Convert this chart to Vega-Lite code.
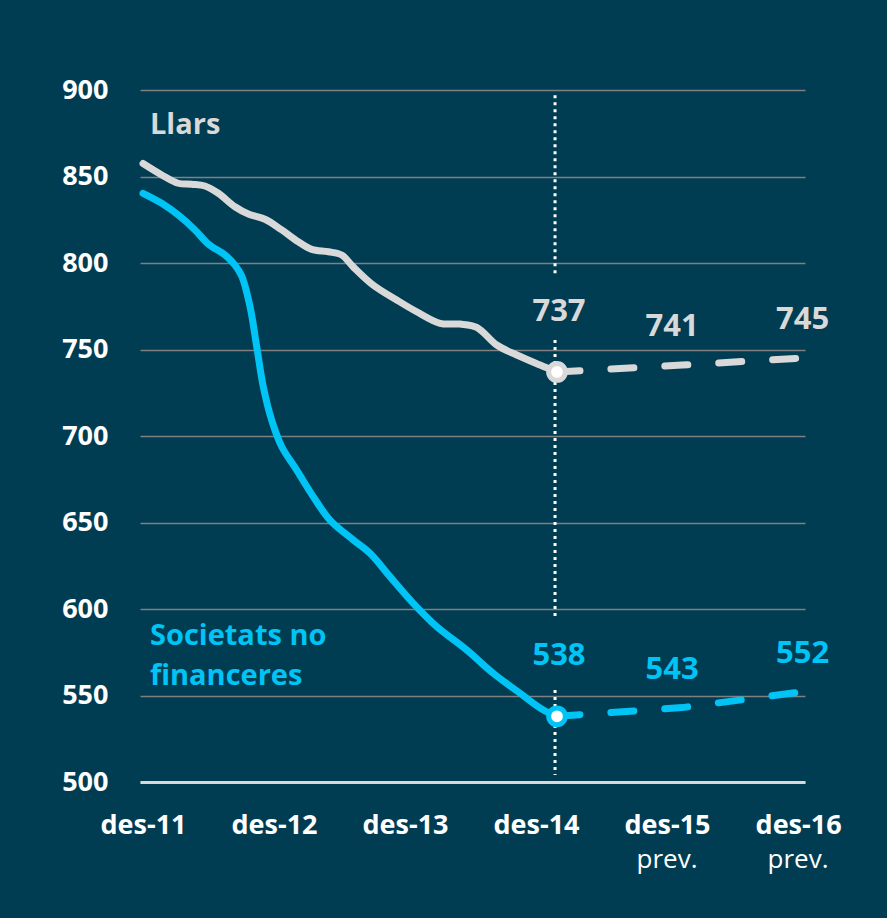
{
  "$schema": "https://vega.github.io/schema/vega-lite/v6.json",
  "width": 665,
  "height": 692,
  "autosize": {"type": "none"},
  "padding": {"left": 140, "top": 90, "right": 82, "bottom": 136},
  "background": "#013D52",
  "config": {"view": {"stroke": null}, "font": "Open Sans"},
  "datasets": {
    "hist": [
      {"series": "Llars", "t": 0.0, "v": 857.5},
      {"series": "Llars", "t": 0.143, "v": 850.9},
      {"series": "Llars", "t": 0.267, "v": 846.1},
      {"series": "Llars", "t": 0.372, "v": 845.5},
      {"series": "Llars", "t": 0.473, "v": 844.5},
      {"series": "Llars", "t": 0.575, "v": 840.3},
      {"series": "Llars", "t": 0.702, "v": 832.5},
      {"series": "Llars", "t": 0.804, "v": 828.3},
      {"series": "Llars", "t": 0.931, "v": 825.3},
      {"series": "Llars", "t": 1.059, "v": 819.1},
      {"series": "Llars", "t": 1.185, "v": 812.3},
      {"series": "Llars", "t": 1.288, "v": 807.9},
      {"series": "Llars", "t": 1.415, "v": 806.5},
      {"series": "Llars", "t": 1.517, "v": 804.6},
      {"series": "Llars", "t": 1.603, "v": 797.9},
      {"series": "Llars", "t": 1.756, "v": 787.3},
      {"series": "Llars", "t": 1.937, "v": 778.6},
      {"series": "Llars", "t": 2.089, "v": 771.8},
      {"series": "Llars", "t": 2.267, "v": 765.1},
      {"series": "Llars", "t": 2.42, "v": 764.7},
      {"series": "Llars", "t": 2.547, "v": 762.8},
      {"series": "Llars", "t": 2.7, "v": 752.6},
      {"series": "Llars", "t": 2.853, "v": 746.8},
      {"series": "Llars", "t": 3.031, "v": 741.0},
      {"series": "Llars", "t": 3.16, "v": 737},
      {"series": "Societats no financeres", "t": 0.0, "v": 840.3},
      {"series": "Societats no financeres", "t": 0.143, "v": 834.5},
      {"series": "Societats no financeres", "t": 0.269, "v": 827.7},
      {"series": "Societats no financeres", "t": 0.397, "v": 819.1},
      {"series": "Societats no financeres", "t": 0.498, "v": 811.0},
      {"series": "Societats no financeres", "t": 0.626, "v": 804.6},
      {"series": "Societats no financeres", "t": 0.702, "v": 798.8},
      {"series": "Societats no financeres", "t": 0.753, "v": 792.5},
      {"series": "Societats no financeres", "t": 0.817, "v": 774.7},
      {"series": "Societats no financeres", "t": 0.868, "v": 751.6},
      {"series": "Societats no financeres", "t": 0.918, "v": 728.5},
      {"series": "Societats no financeres", "t": 0.982, "v": 709.2},
      {"series": "Societats no financeres", "t": 1.059, "v": 693.8},
      {"series": "Societats no financeres", "t": 1.173, "v": 680.3},
      {"series": "Societats no financeres", "t": 1.3, "v": 664.9},
      {"series": "Societats no financeres", "t": 1.427, "v": 651.4},
      {"series": "Societats no financeres", "t": 1.605, "v": 639.9},
      {"series": "Societats no financeres", "t": 1.733, "v": 632.2},
      {"series": "Societats no financeres", "t": 1.885, "v": 618.7},
      {"series": "Societats no financeres", "t": 2.063, "v": 603.3},
      {"series": "Societats no financeres", "t": 2.242, "v": 589.8},
      {"series": "Societats no financeres", "t": 2.471, "v": 576.3},
      {"series": "Societats no financeres", "t": 2.674, "v": 562.8},
      {"series": "Societats no financeres", "t": 2.878, "v": 551.3},
      {"series": "Societats no financeres", "t": 3.056, "v": 541.6},
      {"series": "Societats no financeres", "t": 3.16, "v": 538}
    ],
    "proj": [
      {"series": "Llars", "t": 3.16, "v": 737},
      {"series": "Llars", "t": 4.115, "v": 741},
      {"series": "Llars", "t": 5.02, "v": 745},
      {"series": "Societats no financeres", "t": 3.16, "v": 538},
      {"series": "Societats no financeres", "t": 4.115, "v": 543},
      {"series": "Societats no financeres", "t": 5.02, "v": 552}
    ],
    "divider": [
      {"t": 3.145, "y1": 897, "y2": 794},
      {"t": 3.145, "y1": 755.5, "y2": 593.6},
      {"t": 3.145, "y1": 553.2, "y2": 504}
    ],
    "names": [
      {"series": "Llars", "label": "Llars", "t": 0.053, "v": 874.6},
      {"series": "Societats no financeres", "label": "Societats no", "t": 0.053, "v": 579.2},
      {"series": "Societats no financeres", "label": "financeres", "t": 0.053, "v": 556.1}
    ],
    "prev": [
      {"label": "prev.", "t": 4, "v": 450.3},
      {"label": "prev.", "t": 5, "v": 450.3}
    ]
  },
  "layer": [
    {
      "data": {"name": "hist"},
      "mark": {"type": "line", "interpolate": "catmull-rom", "strokeWidth": 7, "strokeCap": "round", "strokeJoin": "round"},
      "encoding": {
        "x": {
          "field": "t", "type": "quantitative",
          "scale": {"domain": [-0.023, 5.053], "nice": false, "zero": false},
          "axis": {
            "values": [0, 1, 2, 3, 4, 5],
            "labelExpr": "'des-' + (11 + datum.value)",
            "title": null, "grid": false, "ticks": false, "tickSize": 0,
            "domainColor": "#D9D9D9", "domainWidth": 3,
            "labelFont": "Open Sans", "labelFontSize": 27, "labelFontWeight": "bold",
            "labelColor": "#FFFFFF", "labelPadding": 30,
            "labelFlush": false, "labelOverlap": false
          }
        },
        "y": {
          "field": "v", "type": "quantitative",
          "scale": {"domain": [500, 900], "nice": false, "zero": false},
          "axis": {
            "values": [500, 550, 600, 650, 700, 750, 800, 850, 900],
            "title": null, "grid": true, "gridColor": "#808080", "gridWidth": 1.3,
            "domain": false, "ticks": false, "tickSize": 0,
            "labelFont": "Open Sans", "labelFontSize": 27, "labelFontWeight": "bold",
            "labelColor": "#FFFFFF", "labelPadding": 32
          }
        },
        "color": {
          "field": "series", "type": "nominal",
          "scale": {"domain": ["Llars", "Societats no financeres"], "range": ["#D9D9D9", "#00C4F5"]},
          "legend": null
        }
      }
    },
    {
      "data": {"name": "proj"},
      "mark": {"type": "line", "strokeWidth": 7, "strokeCap": "round", "strokeDash": [23, 31]},
      "encoding": {
        "x": {"field": "t", "type": "quantitative"},
        "y": {"field": "v", "type": "quantitative"},
        "color": {"field": "series", "type": "nominal"}
      }
    },
    {
      "data": {"name": "divider"},
      "mark": {"type": "rule", "color": "#FFFFFF", "strokeWidth": 3, "strokeDash": [3, 4]},
      "encoding": {
        "x": {"field": "t", "type": "quantitative"},
        "y": {"field": "y1", "type": "quantitative"},
        "y2": {"field": "y2"}
      }
    },
    {
      "data": {"name": "proj"},
      "transform": [{"filter": "datum.t < 3.5"}],
      "mark": {"type": "point", "filled": false, "size": 280, "strokeWidth": 5, "opacity": 1},
      "encoding": {
        "x": {"field": "t", "type": "quantitative"},
        "y": {"field": "v", "type": "quantitative"},
        "fill": {"value": "#FFFFFF"},
        "stroke": {
          "field": "series", "type": "nominal",
          "scale": {"domain": ["Llars", "Societats no financeres"], "range": ["#D9D9D9", "#00C4F5"]},
          "legend": null
        }
      }
    },
    {
      "data": {"name": "proj"},
      "transform": [{"filter": "datum.t < 3.5"}],
      "mark": {"type": "text", "font": "Open Sans", "fontSize": 31, "fontWeight": "bold", "align": "center", "baseline": "alphabetic", "dy": -51, "dx": 2},
      "encoding": {
        "x": {"field": "t", "type": "quantitative"},
        "y": {"field": "v", "type": "quantitative"},
        "text": {"field": "v", "type": "quantitative"},
        "color": {"field": "series", "type": "nominal"}
      }
    },
    {
      "data": {"name": "proj"},
      "transform": [{"filter": "datum.t > 3.5 && datum.t < 4.5"}],
      "mark": {"type": "text", "font": "Open Sans", "fontSize": 31, "fontWeight": "bold", "align": "center", "baseline": "alphabetic", "dy": -29, "dx": -10},
      "encoding": {
        "x": {"field": "t", "type": "quantitative"},
        "y": {"field": "v", "type": "quantitative"},
        "text": {"field": "v", "type": "quantitative"},
        "color": {"field": "series", "type": "nominal"}
      }
    },
    {
      "data": {"name": "proj"},
      "transform": [{"filter": "datum.t > 4.5"}],
      "mark": {"type": "text", "font": "Open Sans", "fontSize": 31, "fontWeight": "bold", "align": "center", "baseline": "alphabetic", "dy": -29, "dx": 2},
      "encoding": {
        "x": {"field": "t", "type": "quantitative"},
        "y": {"field": "v", "type": "quantitative"},
        "text": {"field": "v", "type": "quantitative"},
        "color": {"field": "series", "type": "nominal"}
      }
    },
    {
      "data": {"name": "names"},
      "mark": {"type": "text", "font": "Open Sans", "fontSize": 29, "fontWeight": "bold", "align": "left", "baseline": "alphabetic"},
      "encoding": {
        "x": {"field": "t", "type": "quantitative"},
        "y": {"field": "v", "type": "quantitative"},
        "text": {"field": "label", "type": "nominal"},
        "color": {"field": "series", "type": "nominal"}
      }
    },
    {
      "data": {"name": "prev"},
      "mark": {"type": "text", "font": "Open Sans", "fontSize": 26, "fontWeight": "normal", "align": "center", "baseline": "alphabetic", "color": "#FFFFFF"},
      "encoding": {
        "x": {"field": "t", "type": "quantitative"},
        "y": {"field": "v", "type": "quantitative"},
        "text": {"field": "label", "type": "nominal"}
      }
    }
  ]
}
